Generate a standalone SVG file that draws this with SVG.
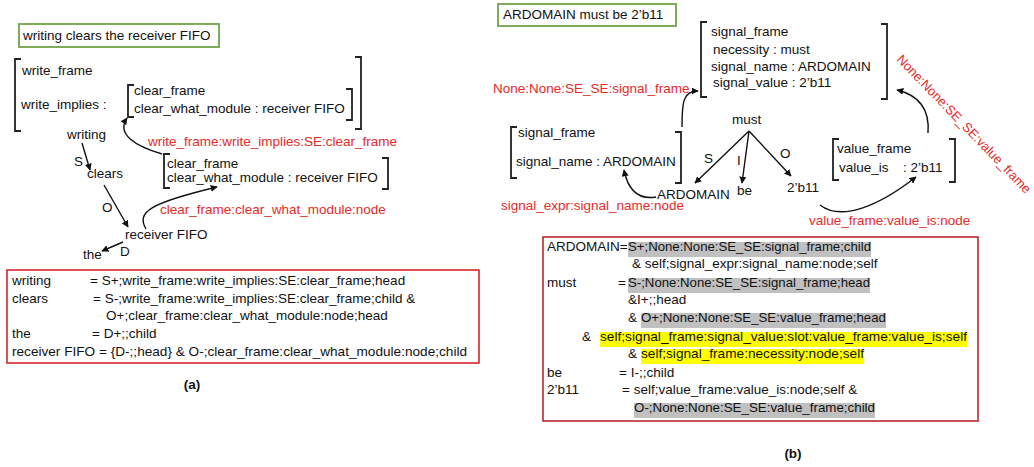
<svg xmlns="http://www.w3.org/2000/svg" width="1034" height="467" viewBox="0 0 1034 467">
<defs>
<marker id="ah" viewBox="0 0 10 10" refX="9" refY="5" markerWidth="7" markerHeight="7" orient="auto" markerUnits="userSpaceOnUse">
<path d="M0,0 L10,5 L0,10 z" fill="#111"/>
</marker>
<style>
text{font-family:"Liberation Sans",Arial,sans-serif;font-size:13.5px;fill:#111}
.red{fill:#e52a2a}
.br{fill:none;stroke:#222;stroke-width:1.8}
.cn{fill:none;stroke:#111;stroke-width:1.4;marker-end:url(#ah)}
.gbox{fill:#fff;stroke:#7dab57;stroke-width:2}
.bold{font-weight:bold}
.gray{fill:#c0c0c0}
.yel{fill:#ffff00}
</style>
</defs>
<rect width="1034" height="467" fill="#fff"/>

<!-- Panel (a) -->
<g id="title-a">
<rect class="gbox" x="19" y="24" width="200" height="23"/>
<text x="23" y="40">writing clears the receiver FIFO</text>
</g>
<g id="frame-write">
<path class="br" d="M21,59 H15 V131 H21"/>
<path class="br" d="M355,57 H361 V129 H355"/>
<text x="22" y="75">write_frame</text>
<text x="21" y="109">write_implies :</text>
</g>
<g id="frame-clear-inner">
<path class="br" d="M134,85 H128 V117 H134"/>
<path class="br" d="M346,89 H352 V120 H346"/>
<text x="134" y="95">clear_frame</text>
<text x="134" y="113">clear_what_module : receiver FIFO</text>
</g>
<g id="frame-clear">
<path class="br" d="M170,154 H164 V188 H170"/>
<path class="br" d="M382,158 H388 V189 H382"/>
<text x="167" y="168">clear_frame</text>
<text x="167" y="182">clear_what_module : receiver FIFO</text>
</g>
<g id="node-writing"><text x="67" y="139">writing</text></g>
<g id="node-clears"><text x="87" y="178">clears</text></g>
<g id="node-receiver"><text x="125" y="239">receiver FIFO</text></g>
<g id="node-the"><text x="83" y="259">the</text></g>
<g id="labels-a">
<text class="red" x="148" y="146">write_frame:write_implies:SE:clear_frame</text>
<text class="red" x="160" y="214">clear_frame:clear_what_module:node</text>
<text x="74" y="166">S</text>
<text x="102" y="212">O</text>
<text x="120" y="256">D</text>
</g>
<g id="connectors-a">
<line class="cn" x1="82" y1="143" x2="90" y2="170"/>
<line class="cn" x1="104" y1="185" x2="128" y2="227"/>
<line class="cn" x1="123" y1="242" x2="102" y2="251"/>
<path class="cn" d="M162,154 C135,146 116,134 127,118"/>
<path class="cn" d="M146,229 C136,212 150,203 217,187"/>
</g>
<g id="rules-a">
<rect x="7" y="270" width="472" height="93" fill="none" stroke="#d9262e" stroke-width="1.6"/>
<text x="12" y="285">writing</text>
<text x="90" y="285">= S+;write_frame:write_implies:SE:clear_frame;head</text>
<text x="12" y="303">clears</text>
<text x="93" y="303">= S-;write_frame:write_implies:SE:clear_frame;child &amp;</text>
<text x="106" y="320">O+;clear_frame:clear_what_module:node;head</text>
<text x="12" y="338">the</text>
<text x="92" y="338">= D+;;child</text>
<text x="12" y="356" textLength="455" lengthAdjust="spacingAndGlyphs">receiver FIFO = {D-;;head} &amp; O-;clear_frame:clear_what_module:node;child</text>
</g>
<text class="bold" x="192" y="389" text-anchor="middle">(a)</text>

<!-- Panel (b) -->
<g id="title-b">
<rect class="gbox" x="498" y="4" width="178" height="22"/>
<text x="503" y="19">ARDOMAIN must be 2’b11</text>
</g>
<g id="frame-signal">
<path class="br" d="M707,22 H701 V97 H707"/>
<path class="br" d="M881,24 H887 V99 H881"/>
<text x="711" y="36">signal_frame</text>
<text x="713" y="54">necessity : must</text>
<text x="711" y="71">signal_name :  ARDOMAIN</text>
<text x="713" y="87">signal_value : 2’b11</text>
</g>
<g id="frame-signal-name">
<path class="br" d="M517,127 H511 V178 H517"/>
<path class="br" d="M675,132 H681 V183 H675"/>
<text x="518" y="137">signal_frame</text>
<text x="516" y="166">signal_name : ARDOMAIN</text>
</g>
<g id="frame-value">
<path class="br" d="M839,139 H833 V180 H839"/>
<path class="br" d="M949,139 H955 V182 H949"/>
<text x="837" y="153">value_frame</text>
<text x="839" y="172">value_is</text>
<text x="903" y="172">: 2’b11</text>
</g>
<g id="node-must"><text x="732" y="124">must</text></g>
<g id="node-ardomain"><text x="657" y="199">ARDOMAIN</text></g>
<g id="node-be"><text x="737" y="195">be</text></g>
<g id="node-2b11"><text x="787" y="192">2’b11</text></g>
<g id="labels-b">
<text class="red" x="493" y="93">None:None:SE_SE:signal_frame</text>
<text class="red" x="501" y="210">signal_expr:signal_name:node</text>
<text class="red" x="809" y="225">value_frame:value_is:node</text>
<text class="red" transform="translate(896,60) rotate(46)" style="font-size:13px">None:None:SE_SE:value_frame</text>
<text x="704" y="163">S</text>
<text x="737" y="165">I</text>
<text x="780" y="158">O</text>
</g>
<g id="connectors-b">
<line class="cn" x1="749" y1="131" x2="695" y2="183"/>
<line class="cn" x1="749" y1="131" x2="742" y2="183"/>
<line class="cn" x1="749" y1="131" x2="791" y2="176"/>
<path class="cn" d="M682,127 C682,102 683,91 698,91"/>
<path class="cn" d="M656,197 C638,200 628,190 624,170"/>
<path class="cn" d="M928,133 C930,108 918,95 897,90"/>
<path class="cn" d="M820,205 C842,222 880,205 916,177"/>
</g>
<g id="rules-b">
<rect x="543" y="237" width="435" height="184" fill="none" stroke="#b8282e" stroke-width="1.6"/>
<rect class="gray" x="628" y="242" width="243" height="15"/>
<rect class="gray" x="628" y="278" width="242" height="15"/>
<rect class="gray" x="641" y="313" width="245" height="15"/>
<rect class="yel" x="600" y="332" width="367" height="15"/>
<rect class="yel" x="641" y="349" width="223" height="15"/>
<rect class="gray" x="634" y="403" width="241" height="15"/>
<text x="547" y="251">ARDOMAIN=</text>
<text x="628" y="251" textLength="243" lengthAdjust="spacingAndGlyphs">S+;None:None:SE_SE:signal_frame;child</text>
<text x="632" y="268">&amp; self;signal_expr:signal_name:node;self</text>
<text x="547" y="287">must</text>
<text x="618" y="287">=</text>
<text x="628" y="287" textLength="242" lengthAdjust="spacingAndGlyphs">S-;None:None:SE_SE:signal_frame;head</text>
<text x="628" y="304">&amp;I+;;head</text>
<text x="628" y="322">&amp;</text>
<text x="641" y="322" textLength="245" lengthAdjust="spacingAndGlyphs">O+;None:None:SE_SE:value_frame;head</text>
<text x="582" y="341">&amp;</text>
<text x="600" y="341" textLength="367" lengthAdjust="spacingAndGlyphs">self;signal_frame:signal_value:slot:value_frame:value_is;self</text>
<text x="628" y="358">&amp;</text>
<text x="641" y="358" textLength="223" lengthAdjust="spacingAndGlyphs">self;signal_frame:necessity:node;self</text>
<text x="547" y="377">be</text>
<text x="619" y="377">= I-;;child</text>
<text x="547" y="394">2’b11</text>
<text x="622" y="394">= self;value_frame:value_is:node;self &amp;</text>
<text x="634" y="412" textLength="241" lengthAdjust="spacingAndGlyphs">O-;None:None:SE_SE:value_frame;child</text>
</g>
<text class="bold" x="793" y="458" text-anchor="middle">(b)</text>
</svg>
